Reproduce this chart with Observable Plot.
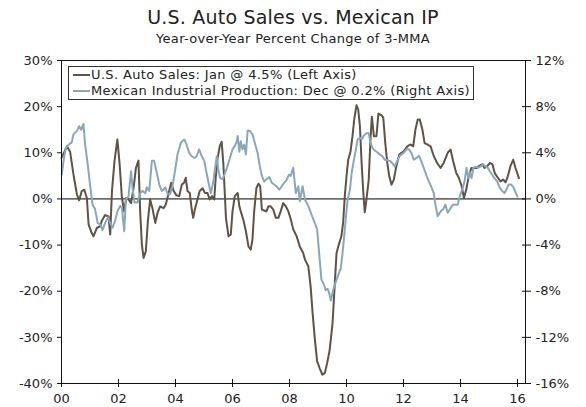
<!DOCTYPE html>
<html>
<head>
<meta charset="utf-8">
<script src="https://cdn.jsdelivr.net/npm/d3@7"></script>
<script src="https://cdn.jsdelivr.net/npm/@observablehq/plot@0.6"></script>
<style>
  html, body { margin: 0; padding: 0; background: #fff; }
  #wrap { position: relative; width: 586px; height: 407px; font-family: "DejaVu Sans", Verdana, sans-serif; color: #222; }
  #title { position: absolute; left: 0; width: 586px; top: 6px; text-align: center; font-size: 19px; line-height: 22px; letter-spacing: 0.2px; }
  #subtitle { position: absolute; left: 0; width: 586px; top: 31px; text-align: center; font-size: 13px; line-height: 16px; letter-spacing: 0.3px; }
  #chart { position: absolute; left: 0; top: 52px; }
  #legend { position: absolute; left: 68px; top: 66px; width: 404px; height: 32px; border: 1px solid #333; background: #fff; font-size: 13px; letter-spacing: 0.36px; }
  .row { position: absolute; left: 4px; height: 16px; line-height: 16px; white-space: nowrap; }
  .sw { display: inline-block; width: 17px; height: 2px; vertical-align: middle; margin-right: 1px; position: relative; top: -1px; }
</style>
</head>
<body>
<div id="wrap">
  <div id="title">U.S. Auto Sales vs. Mexican IP</div>
  <div id="subtitle">Year-over-Year Percent Change of 3-MMA</div>
  <div id="chart"></div>
  <div id="legend">
    <div class="row" style="top:0px"><span class="sw" style="background:#5F5246"></span>U.S. Auto Sales: Jan @ 4.5% (Left Axis)</div>
    <div class="row" style="top:16px"><span class="sw" style="background:#8AA7BA"></span>Mexican Industrial Production: Dec @ 0.2% (Right Axis)</div>
  </div>
</div>
<script>
// Tick values
const leftTicks = [30, 20, 10, 0, -10, -20, -30, -40];
const rightTicks = [12, 8, 4, 0, -4, -8, -12, -16];
const xTicks = [2000, 2002, 2004, 2006, 2008, 2010, 2012, 2014, 2016];

// U.S. Auto Sales, YoY % of 3-MMA (left axis) — time in decimal years
const autoX = [2000.00,2000.19,2000.30,2000.42,2000.54,2000.62,2000.71,2000.80,2000.89,2000.95,
2001.06,2001.12,2001.24,2001.36,2001.41,2001.53,2001.65,2001.71,2001.77,2001.86,2001.96,
2002.04,2002.12,2002.20,2002.27,2002.35,2002.44,2002.53,2002.61,2002.70,2002.76,2002.82,2002.88,2002.96,
2003.03,2003.11,2003.19,2003.29,2003.37,2003.46,2003.58,2003.66,2003.75,2003.85,2003.93,
2004.03,2004.13,2004.22,2004.30,2004.36,2004.42,2004.50,2004.57,2004.62,2004.69,2004.77,2004.85,2004.95,
2005.03,2005.12,2005.20,2005.28,2005.36,2005.41,2005.47,2005.55,2005.62,2005.68,2005.77,2005.86,2005.94,
2006.00,2006.08,2006.18,2006.24,2006.29,2006.38,2006.47,2006.56,2006.64,2006.70,2006.76,2006.84,2006.91,2006.97,
2007.03,2007.11,2007.19,2007.26,2007.34,2007.43,2007.52,2007.61,2007.69,2007.78,2007.87,2007.96,
2008.05,2008.13,2008.25,2008.36,2008.48,2008.54,2008.66,2008.74,2008.81,2008.89,2008.97,
2009.06,2009.15,2009.24,2009.32,2009.41,2009.51,2009.59,2009.65,2009.73,2009.82,2009.88,2009.94,
2010.00,2010.06,2010.14,2010.21,2010.27,2010.35,2010.41,2010.47,2010.53,2010.59,2010.64,2010.70,2010.78,2010.84,2010.89,2010.96,
2011.05,2011.12,2011.23,2011.29,2011.36,2011.43,2011.50,2011.58,2011.66,2011.75,2011.85,2011.93,
2012.01,2012.13,2012.25,2012.34,2012.42,2012.50,2012.57,2012.66,2012.74,2012.83,2012.95,
2013.06,2013.18,2013.30,2013.41,2013.55,2013.65,2013.74,2013.85,2013.94,
2014.04,2014.12,2014.20,2014.29,2014.38,2014.47,2014.56,2014.64,2014.76,2014.84,2014.94,
2015.03,2015.12,2015.20,2015.31,2015.40,2015.50,2015.58,2015.66,2015.75,2015.85,2015.93,2016.05];
const autoY = [8.9,11.4,10.3,5.3,1.0,-0.3,1.7,2.0,0.2,-5.5,
-7.4,-8.1,-6.3,-5.9,-4.8,-3.5,-3.8,-7.7,1.7,8.2,12.9,
7.5,0.2,-2.7,0.2,-0.1,-0.9,2.4,6.7,8.3,-2.7,-9.9,-12.8,-11.3,
-4.8,-0.1,-2.0,-5.2,-3.0,-1.6,-2.0,-1.2,1.0,3.5,1.8,
0.8,0.6,3.1,3.5,4.6,1.7,1.3,-2.3,-4.1,-2.0,-0.1,1.7,2.3,
1.3,1.3,-0.1,0.6,-0.1,4.6,8.5,11.4,12.4,7.5,-4.1,-8.1,-7.7,
-2.7,0.6,1.3,-1.6,-2.7,-4.5,-7.0,-10.3,-11.0,-8.8,-2.7,2.4,3.3,2.8,
-2.3,-2.5,-2.7,-1.6,-1.6,-2.3,-4.1,-4.1,-2.7,-0.9,-1.6,-2.7,
-4.5,-6.6,-8.1,-10.3,-11.7,-13.1,-14.6,-18.9,-24.7,-30.5,-35.2,
-36.7,-38.1,-37.7,-35.6,-32.7,-26.9,-18.2,-11.7,-9.9,-8.1,-5.2,0.6,
4.9,8.5,10.3,13.6,17.2,20.3,19.4,15.8,7.8,1.3,-2.9,-0.1,4.2,12.9,17.8,13.6,
13.6,18.5,18.1,17.6,12.1,7.8,4.9,3.1,4.2,7.1,9.6,10.0,
10.3,11.4,11.8,11.4,15.1,17.2,17.2,15.1,12.1,11.8,11.4,
9.3,7.8,6.7,7.8,10.0,10.7,8.2,5.6,4.6,
2.8,0.2,2.0,4.9,6.7,6.7,6.7,7.1,7.5,6.7,7.1,
7.8,7.5,5.6,4.6,3.8,4.2,3.6,4.9,7.1,8.5,6.7,4.5];

// Mexican Industrial Production, YoY % of 3-MMA (right axis)
const mexX = [2000.01,2000.07,2000.15,2000.25,2000.36,2000.42,2000.54,2000.62,2000.69,2000.77,2000.83,2000.92,
2001.00,2001.09,2001.18,2001.27,2001.36,2001.44,2001.53,2001.63,2001.71,2001.79,2001.88,2001.96,
2002.06,2002.12,2002.20,2002.26,2002.35,2002.44,2002.49,2002.56,2002.67,2002.76,2002.84,2002.94,2002.99,
2003.08,2003.17,2003.25,2003.34,2003.43,2003.52,2003.58,2003.64,2003.73,2003.81,2003.90,2003.99,
2004.07,2004.19,2004.31,2004.39,2004.48,2004.57,2004.66,2004.74,2004.83,2004.92,
2005.01,2005.09,2005.16,2005.24,2005.32,2005.39,2005.45,2005.51,2005.57,2005.65,2005.74,2005.82,2005.91,
2006.00,2006.08,2006.14,2006.18,2006.24,2006.29,2006.35,2006.41,2006.47,2006.53,2006.61,2006.70,2006.80,2006.88,2006.96,
2007.03,2007.11,2007.19,2007.29,2007.38,2007.46,2007.54,2007.64,2007.73,2007.81,2007.89,2007.98,
2008.04,2008.13,2008.22,2008.31,2008.36,2008.46,2008.54,2008.66,2008.77,2008.89,2008.97,
2009.04,2009.12,2009.20,2009.27,2009.34,2009.39,2009.45,2009.53,2009.61,2009.71,2009.80,2009.86,2009.92,2009.98,
2010.04,2010.12,2010.18,2010.26,2010.33,2010.39,2010.47,2010.53,2010.61,2010.70,2010.78,2010.84,2010.91,2010.99,
2011.08,2011.17,2011.26,2011.34,2011.43,2011.52,2011.61,2011.69,2011.78,2011.87,2011.96,
2012.04,2012.11,2012.19,2012.27,2012.36,2012.46,2012.54,2012.62,2012.71,2012.81,2012.89,2012.97,
2013.06,2013.12,2013.20,2013.30,2013.39,2013.47,2013.55,2013.65,2013.74,2013.82,2013.90,2013.97,
2014.06,2014.14,2014.21,2014.27,2014.33,2014.39,2014.45,2014.53,2014.61,2014.70,2014.80,2014.88,2014.96,
2015.03,2015.11,2015.19,2015.29,2015.37,2015.46,2015.54,2015.61,2015.69,2015.78,2015.86,2015.96,2016.00];
const mexY = [2.1,3.3,4.4,4.7,4.9,5.6,5.9,6.3,6.0,6.5,4.7,3.0,
1.25,-0.5,-0.9,-2.1,-2.2,-2.7,-2.1,-1.6,-2.1,-2.5,-1.9,-1.1,
-0.6,-0.8,-2.8,-0.05,0.2,2.4,1.0,-0.3,-0.3,0.5,0.7,0.5,1.0,
0.7,3.3,3.3,2.3,1.25,0.7,0.8,1.0,0.4,0.4,1.2,2.55,
3.85,4.9,5.15,4.7,4.0,3.7,3.55,3.7,4.3,3.7,
3.3,2.25,1.4,0.5,1.4,2.7,3.7,2.4,1.8,1.7,2.25,2.8,3.55,
4.3,4.6,4.9,5.45,4.1,5.0,4.3,4.7,3.85,5.9,5.9,5.6,4.7,4.0,2.8,
2.0,1.5,1.7,1.9,1.4,1.25,1.1,0.8,1.1,1.4,1.6,2.1,
2.0,2.7,0.5,1.1,-0.2,1.1,-0.05,-0.6,-1.35,-2.1,-2.65,
-4.7,-7.0,-7.4,-7.9,-7.8,-8.15,-8.8,-7.9,-7.3,-6.6,-6.0,-4.7,-3.2,-1.5,
-0.05,0.8,2.25,3.4,4.3,5.15,5.3,5.15,5.5,5.7,5.7,4.9,4.4,4.2,
4.05,3.85,3.7,3.4,3.35,3.3,3.1,2.8,3.3,3.75,3.9,
4.1,4.3,4.3,4.0,3.4,3.55,3.75,3.3,2.7,2.0,1.5,1.1,
0.5,-0.5,-1.5,-1.1,-0.9,-0.5,-1.2,-0.8,-0.5,-0.5,-0.5,0.2,
0.8,1.5,2.7,1.8,2.3,1.8,2.7,2.8,2.7,2.8,3.0,2.8,2.7,
2.4,2.1,1.8,1.5,1.0,0.7,0.5,0.8,1.25,1.25,1.0,0.4,0.2];

const auto = autoX.map((x, i) => ({x, v: autoY[i]}));
const mex = mexX.map((x, i) => ({x, v: mexY[i]}));
const ratio = 2.5; // left units per right unit

const plot = Plot.plot({
  width: 586,
  height: 355,
  marginTop: 8,
  marginBottom: 24,
  marginLeft: 61,
  marginRight: 61,
  style: {fontFamily: "DejaVu Sans, Verdana, sans-serif", fontSize: "13px", color: "#222", background: "#fff", overflow: "visible"},
  x: {type: "linear", domain: [2000, 2016.28]},
  y: {domain: [-40, 30]},
  marks: [
    Plot.ruleY([0], {stroke: "#000", strokeWidth: 1}),
    Plot.line(auto, {x: "x", y: "v", stroke: "#5F5246", strokeWidth: 2}),
    Plot.line(mex, {x: "x", y: d => d.v * ratio, stroke: "#8AA7BA", strokeWidth: 2}),
    Plot.frame({stroke: "#111", strokeWidth: 1}),
    Plot.axisY(leftTicks, {anchor: "left", tickSize: 4, tickPadding: 5, tickFormat: d => d + "%", label: null, stroke: "#111"}),
    Plot.axisY(rightTicks.map(v => v * ratio), {anchor: "right", tickSize: 5, tickPadding: 5, tickFormat: d => Math.round(d / ratio) + "%", label: null, stroke: "#111", textAnchor: "start"}),
    Plot.axisY(rightTicks.map(v => v * ratio), {anchor: "right", tickSize: -4, tickFormat: () => "", label: null, stroke: "#111"}),
    Plot.axisX(xTicks, {anchor: "bottom", tickSize: 4, tickPadding: 6, tickFormat: d => String(d).slice(2), label: null, stroke: "#111"}),
    Plot.axisX(xTicks, {anchor: "bottom", tickSize: -4, tickFormat: () => "", label: null, stroke: "#111"})
  ]
});
document.getElementById("chart").appendChild(plot);
</script>
</body>
</html>
